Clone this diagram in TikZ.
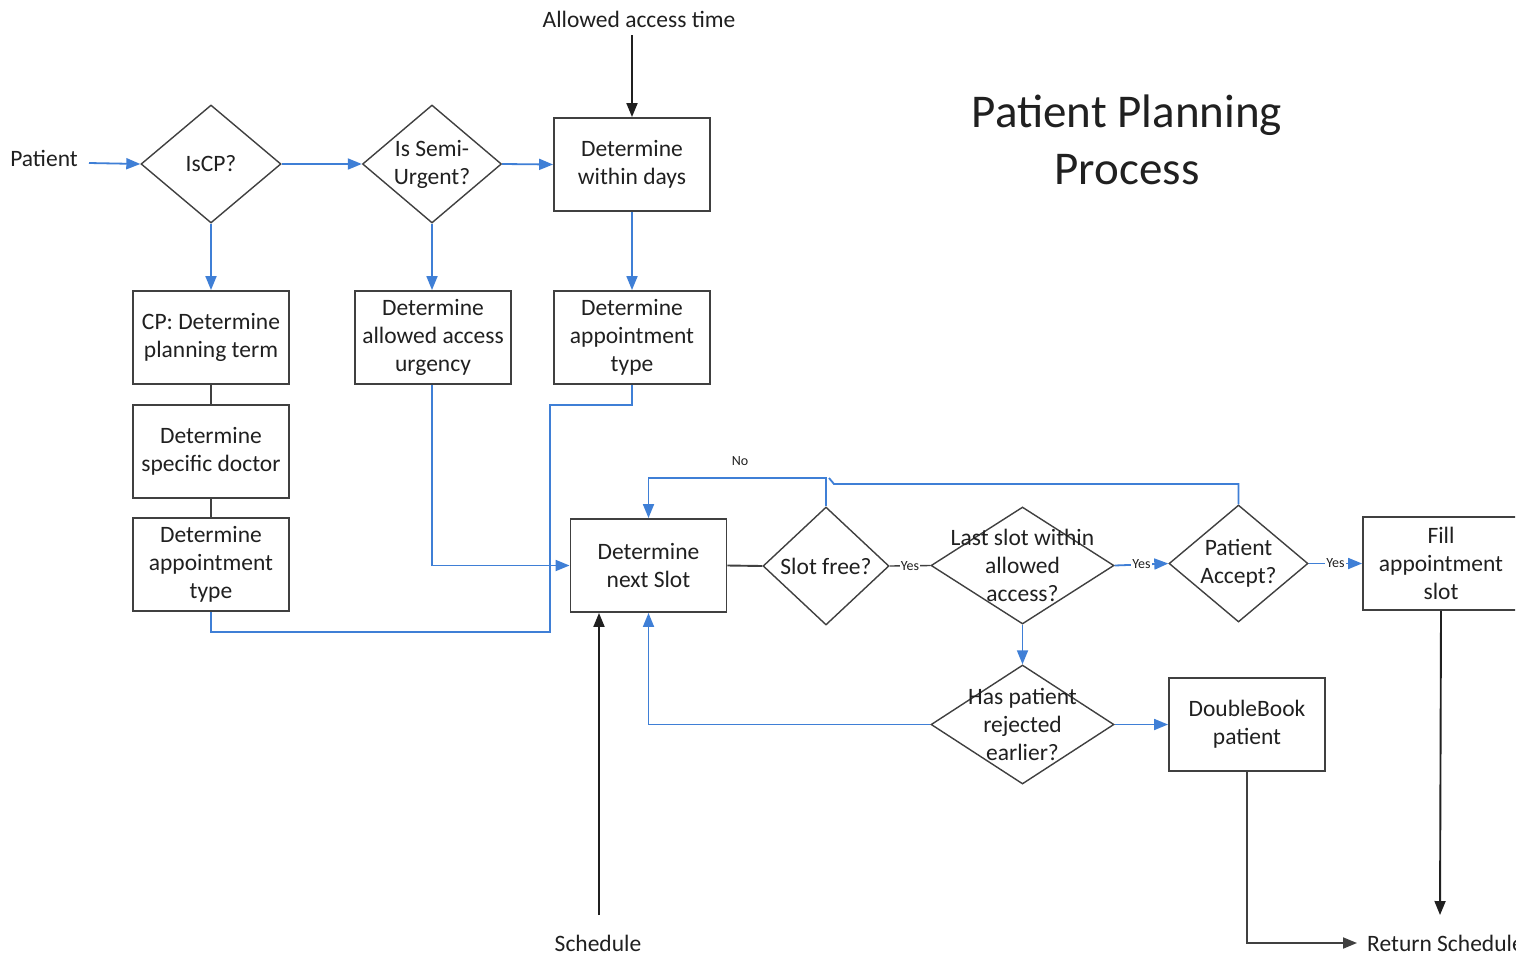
\documentclass[tikz,border=0pt]{standalone}
\usepackage{fontspec}
\setmainfont{Carlito}
\usetikzlibrary{shapes.geometric,arrows.meta}
\definecolor{lblue}{HTML}{3F7FD6}
\definecolor{dgray}{HTML}{404040}
\definecolor{tgray}{HTML}{202020}
\begin{document}
\begin{tikzpicture}[x=1pt,y=-1pt,
  every node/.style={text=tgray},
  box/.style={draw=dgray,line width=1.9pt,rectangle,minimum width=156pt,minimum height=93pt,inner sep=0pt,align=center,font=\fontsize{23.5}{28}\selectfont},
  dia/.style={draw=dgray,line width=1.4pt,diamond,inner sep=0pt},
  dtxt/.style={align=center,font=\fontsize{23.5}{28}\selectfont,inner sep=0pt},
  plain/.style={font=\fontsize{23.5}{28}\selectfont,inner sep=0pt},
  tip/.style={-{Triangle[length=14pt,width=11pt]}},
  bl/.style={draw=lblue,line width=1.8pt},
  bk/.style={draw=tgray,line width=1.9pt},
  small/.style={font=\fontsize{14}{16}\selectfont,fill=white,inner sep=1pt}]
\fill[white] (0,0) rectangle (1525,956);
\useasboundingbox (0,0) rectangle (1525,956);
\clip (0,0) rectangle (1515,956);

% title
\node[font=\fontsize{47}{57}\selectfont,align=center] (title) at (1127,140) {Patient Planning\\Process};

% inputs
\node[plain] (patient) at (44,158) {Patient};
\coordinate (patEnd) at (89,163);
\node[plain] (allowed) at (639,19) {Allowed access time};
\coordinate (allowedEnd) at (632,35);

% diamonds top row
\node[dia,minimum width=140pt,minimum height=118pt] (iscp) at (211,164) {};
\node[dtxt] at (iscp) {IsCP?};
\node[dia,minimum width=139pt,minimum height=118pt] (semi) at (432,164) {};
\node[dtxt] at (semi) {Is Semi-\\Urgent?};
\node[box] (within) at (632,164.5) {Determine\\within days};

% second row boxes
\node[box] (cp) at (211,337.5) {CP: Determine\\planning term};
\node[box] (urg) at (433,337.5) {Determine\\allowed access\\urgency};
\node[box] (appt2) at (632,337.5) {Determine\\appointment\\type};
\node[box] (doc) at (211,451.5) {Determine\\specific doctor};
\node[box] (appt1) at (211,564.5) {Determine\\appointment\\type};

% main row
\node[box] (next) at (648.5,565.5) {Determine\\next Slot};
\node[dia,minimum width=126pt,minimum height=118pt] (free) at (826,566) {};
\node[dtxt] at (free) {Slot free?};
\node[dia,minimum width=183pt,minimum height=117pt] (last) at (1022.5,565.5) {};
\node[dtxt] at (last) {Last slot within\\allowed\\access?};
\node[dia,minimum width=139pt,minimum height=117pt] (accept) at (1238.5,563.5) {};
\node[dtxt] at (accept) {Patient\\Accept?};
\node[box] (fill) at (1441,563.5) {Fill\\appointment\\slot};

\node[dia,minimum width=183pt,minimum height=119pt] (hasp) at (1022.5,724.5) {};
\node[dtxt] at (hasp) {Has patient\\rejected\\earlier?};
\node[box] (db) at (1247,724.5) {DoubleBook\\patient};

% outputs
\node[plain] (sched) at (598,943) {Schedule};
\coordinate (schedStart) at (599,915);
\node[plain,anchor=west] (ret) at (1367,943) {Return Schedule};
\coordinate (fillEnd) at (1440,915);

% connectors top
\draw[bl,tip] (patEnd) -- (iscp.west);
\draw[bk,tip] (allowedEnd) -- (within.north);
\draw[bl,tip] (iscp.east) -- (semi.west);
\draw[bl,tip] (semi.east) -- (within.west);
\draw[bl,tip] (iscp.south) -- (cp.north);
\draw[bl,tip] (semi.south) -- (semi.south |- urg.north);
\draw[bl,tip] (within.south) -- (appt2.north);
\draw[draw=dgray,line width=1.5pt] (cp.south) -- (doc.north);
\draw[draw=dgray,line width=1.5pt] (doc.south) -- (appt1.north);

\draw[bl,tip] (semi.south |- urg.south) |- (next.west);
\coordinate (j1) at (550,405);
\coordinate (j2) at (550,632);
\draw[bl] (appt2.south) |- (j1) -- (j2) -| (appt1.south);

% main row connectors
\draw[draw=dgray,line width=1.9pt] (next.east) -- (free.west);
\draw[draw=dgray,line width=1.4pt] (free.east) -- node[small]{Yes} (last.west);
\draw[bl,tip] (last.east) -- node[small]{Yes} (accept.west);
\draw[bl,tip] (accept.east) -- node[small]{Yes} (fill.west);

\coordinate (n1) at (826,478);
\coordinate (n2) at (834,484);
\coordinate (n3) at (829,478);
\draw[bl,tip] (free.north) -- (n1) -| (next.north);
\node[font=\fontsize{14}{16}\selectfont,inner sep=0pt] (no) at (740,461) {No};
\draw[bl] (accept.north) |- (n2) -- (n3);

\draw[bl,tip] (last.south) -- (hasp.north);
\draw[bl,tip] (hasp.west) -| (next.south);
\draw[bl,tip] (hasp.east) -- (db.west);

% outputs connectors
\draw[bk,tip] (schedStart) -- (schedStart |- next.south);
\draw[draw=dgray,line width=1.9pt,tip] (db.south) |- ([xshift=-10pt]ret.west);
\draw[bk,tip] (fill.south) -- (fillEnd);
\end{tikzpicture}
\end{document}
